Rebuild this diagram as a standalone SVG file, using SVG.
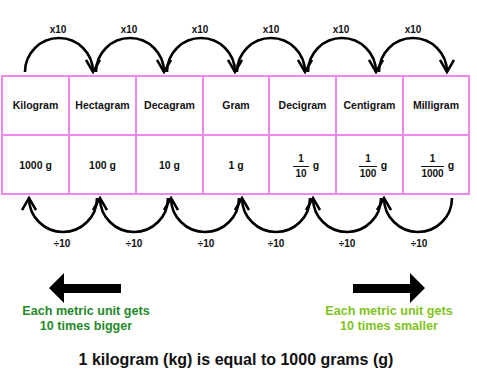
<svg xmlns="http://www.w3.org/2000/svg" width="477" height="380" viewBox="0 0 477 380">
<style>
text{font-family:"Liberation Sans",Arial,sans-serif;font-weight:bold;text-anchor:middle;fill:#111}
.hd{font-size:10.5px}
.val{font-size:10.5px}
.fr{font-size:10px}
.lbl{font-size:10px}
.cell{fill:#fff;stroke:#ee88ee;stroke-width:2}
.arc{fill:none;stroke:#000;stroke-width:2.6}
.g1{fill:#1f8a2a;font-size:12.6px}
.g2{fill:#80c41c;font-size:12.6px}
.big{font-size:16px}
.frl{stroke:#111;stroke-width:1}
</style>
<defs>
<marker id="ah" viewBox="0 0 16 16" refX="13" refY="8" markerWidth="16" markerHeight="16" markerUnits="userSpaceOnUse" orient="auto">
<path d="M1,1 L13,8 L1,15" fill="none" stroke="#000" stroke-width="2.5"/>
</marker>
</defs>
<g id="table">
<g id="kilogram"><rect class="cell" x="2" y="76" width="67" height="59"/><rect class="cell" x="2" y="135" width="67" height="59"/><text class="hd" x="35.5" y="109">Kilogram</text><text class="val" x="35.5" y="169">1000 g</text></g>
<g id="hectagram"><rect class="cell" x="69" y="76" width="67" height="59"/><rect class="cell" x="69" y="135" width="67" height="59"/><text class="hd" x="102.5" y="109">Hectagram</text><text class="val" x="102.5" y="169">100 g</text></g>
<g id="decagram"><rect class="cell" x="136" y="76" width="67" height="59"/><rect class="cell" x="136" y="135" width="67" height="59"/><text class="hd" x="169.5" y="109">Decagram</text><text class="val" x="169.5" y="169">10 g</text></g>
<g id="gram"><rect class="cell" x="203" y="76" width="66" height="59"/><rect class="cell" x="203" y="135" width="66" height="59"/><text class="hd" x="236" y="109">Gram</text><text class="val" x="236" y="169">1 g</text></g>
<g id="decigram"><rect class="cell" x="269" y="76" width="67" height="59"/><rect class="cell" x="269" y="135" width="67" height="59"/><text class="hd" x="302.5" y="109">Decigram</text>
<text class="fr" x="301" y="162">1</text><line class="frl" x1="293" y1="166.5" x2="309" y2="166.5"/><text class="fr" x="301" y="177">10</text><text class="val" x="316" y="169">g</text></g>
<g id="centigram"><rect class="cell" x="336" y="76" width="67" height="59"/><rect class="cell" x="336" y="135" width="67" height="59"/><text class="hd" x="369.5" y="109">Centigram</text>
<text class="fr" x="368" y="162">1</text><line class="frl" x1="359" y1="166.5" x2="377" y2="166.5"/><text class="fr" x="368" y="177">100</text><text class="val" x="384" y="169">g</text></g>
<g id="milligram"><rect class="cell" x="403" y="76" width="66" height="59"/><rect class="cell" x="403" y="135" width="66" height="59"/><text class="hd" x="436" y="109">Milligram</text>
<text class="fr" x="432.5" y="162">1</text><line class="frl" x1="421" y1="166.5" x2="444" y2="166.5"/><text class="fr" x="432.5" y="177">1000</text><text class="val" x="451" y="169">g</text></g>
</g>
<g id="connectors">
<path class="arc" marker-end="url(#ah)" d="M25,72 A34,34 0 0 1 93,72"/>
<path class="arc" marker-end="url(#ah)" d="M96,72 A34,34 0 0 1 164,72"/>
<path class="arc" marker-end="url(#ah)" d="M167,72 A34,34 0 0 1 235,72"/>
<path class="arc" marker-end="url(#ah)" d="M237,72 A34,34 0 0 1 305,72"/>
<path class="arc" marker-end="url(#ah)" d="M308,72 A34,34 0 0 1 376,72"/>
<path class="arc" marker-end="url(#ah)" d="M379,72 A34,34 0 0 1 447,72"/>
<path class="arc" marker-end="url(#ah)" d="M97,198 A34,34 0 0 1 29,198"/>
<path class="arc" marker-end="url(#ah)" d="M168,198 A34,34 0 0 1 100,198"/>
<path class="arc" marker-end="url(#ah)" d="M239,198 A34,34 0 0 1 171,198"/>
<path class="arc" marker-end="url(#ah)" d="M310,198 A34,34 0 0 1 242,198"/>
<path class="arc" marker-end="url(#ah)" d="M381,198 A34,34 0 0 1 313,198"/>
<path class="arc" marker-end="url(#ah)" d="M452,198 A34,34 0 0 1 384,198"/>
</g>
<g id="labels">
<text class="lbl" x="58" y="33">x10</text>
<text class="lbl" x="129" y="33">x10</text>
<text class="lbl" x="200" y="33">x10</text>
<text class="lbl" x="271" y="33">x10</text>
<text class="lbl" x="341" y="33">x10</text>
<text class="lbl" x="413" y="33">x10</text>
<text class="lbl" x="62" y="247">÷10</text>
<text class="lbl" x="134" y="247">÷10</text>
<text class="lbl" x="206" y="247">÷10</text>
<text class="lbl" x="276" y="247">÷10</text>
<text class="lbl" x="347" y="247">÷10</text>
<text class="lbl" x="419" y="247">÷10</text>
</g>
<g id="bigger">
<path d="M49,288 L64,273 L64,284 L121,284 L121,293 L64,293 L64,303 Z" fill="#000"/>
<text class="g1" x="86" y="315">Each metric unit gets</text>
<text class="g1" x="86" y="330">10 times bigger</text>
</g>
<g id="smaller">
<path d="M425,288 L410,273 L410,284 L353,284 L353,293 L410,293 L410,303 Z" fill="#000"/>
<text class="g2" x="389" y="315">Each metric unit gets</text>
<text class="g2" x="389" y="330">10 times smaller</text>
</g>
<text class="big" x="236" y="365">1 kilogram (kg) is equal to 1000 grams (g)</text>
</svg>
